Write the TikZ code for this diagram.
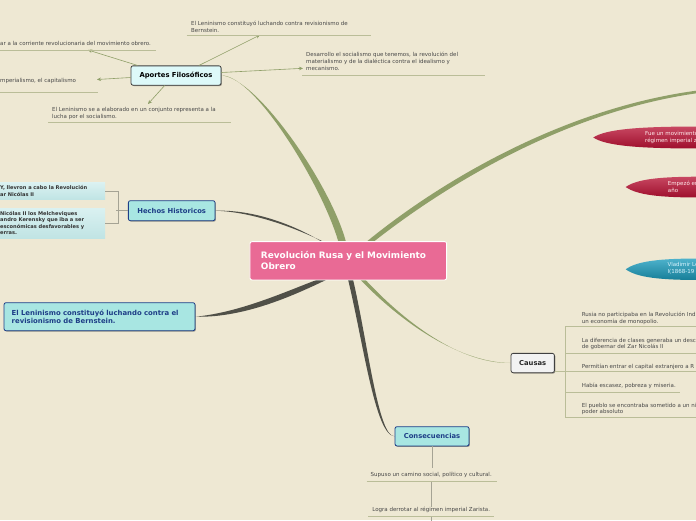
\documentclass[tikz,border=0pt]{standalone}
\usepackage{fontspec}
\setmainfont{DejaVu Sans}
\usetikzlibrary{arrows.meta,shadows,calc}
\definecolor{bgc}{RGB}{238,232,211}
\definecolor{olivec}{RGB}{143,159,104}
\definecolor{olivelt}{RGB}{186,189,152}
\definecolor{darkc}{RGB}{80,80,72}
\definecolor{txtc}{RGB}{72,72,72}
\definecolor{pinkc}{RGB}{233,106,149}
\definecolor{tealfill}{RGB}{168,230,226}
\definecolor{paleteal}{RGB}{221,249,249}
\definecolor{navyc}{RGB}{30,62,135}
\definecolor{graylink}{RGB}{165,163,148}
\definecolor{redtop}{RGB}{200,72,98}
\definecolor{redbot}{RGB}{158,14,44}
\definecolor{bluetop}{RGB}{78,178,204}
\definecolor{bluebot}{RGB}{22,126,152}
\definecolor{boxtop}{RGB}{218,241,241}
\definecolor{boxbot}{RGB}{192,228,228}
\pgfdeclarelayer{background}
\pgfsetlayers{background,main}
\tikzset{
 smalltxt/.style={anchor=north west, inner sep=0pt, align=left, text=txtc, font=\fontsize{5.5}{7}\selectfont},
 causetxt/.style={smalltxt, font=\fontsize{5.5}{6.4}\selectfont},
 topicbox/.style={rounded corners=2pt, line width=0.8pt, inner sep=0pt, minimum height=19.3pt, font=\fontsize{6.8}{8}\selectfont\bfseries, drop shadow={shadow xshift=0.9pt, shadow yshift=-0.9pt, opacity=0.35, fill=black}},
 navybox/.style={topicbox, fill=tealfill, draw=navyc, text=navyc},
 underl/.style={draw=olivelt, line width=0.6pt},
 arr/.style={draw=olivec, line width=0.6pt, -{Stealth[length=4pt,width=3.6pt]}},
 glink/.style={draw=graylink, line width=0.7pt},
 factbox/.style={anchor=west, inner xsep=2pt, inner ysep=0pt, text width=103pt, align=left, top color=boxtop, bottom color=boxbot, text=black!80, font=\fontsize{5.1}{6.5}\selectfont\bfseries},
 leaftxt/.style={anchor=north west, inner sep=0pt, align=left, font=\fontsize{5.5}{6.9}\selectfont},
}
\begin{document}
\begin{tikzpicture}[x=1pt,y=-1pt]
\useasboundingbox (0,0) rectangle (696,520);

% ---------- main nodes ----------
\node[fill=pinkc, draw=white, line width=0.9pt, rounded corners=2pt, minimum width=196.7pt, minimum height=38.3pt, inner xsep=11pt, inner ysep=0pt, text width=174.7pt, align=left, text=white, font=\fontsize{8.9}{11}\selectfont\bfseries] (center) at (348.3,260.8) {Revolución Rusa y el Movimiento\\Obrero};

\node[topicbox, fill=paleteal, draw=black!75, text=black, minimum width=90pt] (aportes) at (176,75.5) {Aportes Filosóficos};
\node[navybox, minimum width=86.7pt, minimum height=20pt] (hechos) at (171.7,210.7) {Hechos Historicos};
\node[navybox, minimum width=191pt, minimum height=28pt, text width=175.6pt, inner xsep=7.7pt, align=left, font=\fontsize{6.9}{8}\selectfont\bfseries] (len) at (99.5,316.7) {El Leninismo constituyó luchando contra el\\revisionismo de Bernstein.};
\node[navybox, minimum width=74pt] (cons) at (432,436.3) {Consecuencias};
\node[topicbox, fill=black!5, draw=black!75, text=black!85, minimum width=43.3pt] (causas) at (532.7,363) {Causas};

\coordinate (rightend) at (700,91.5);

% ---------- branches (background) ----------
\begin{pgfonlayer}{background}
\clip (0,0) rectangle (696,520);
\fill[bgc] (0,0) rectangle (696,520);
% to Aportes
\fill[olivec] ($(center.north)+(-9,4)$) .. controls (325,190) and (255,74.5) .. (aportes.east)
  .. controls (258,77.5) and (334,190) .. ($(center.north)+(-1.5,4)$) -- cycle;
% to the right
\fill[olivec] ($(center.north)+(14,4)$) .. controls (437,183) and (563,107.5) .. ($(rightend)+(0,-1.3)$)
  -- ($(rightend)+(0,1.3)$) .. controls (565,111) and (442,187) .. ($(center.north)+(21,4)$) -- cycle;
% to Hechos
\fill[darkc] ($(center.north)+(-21,4)$) .. controls (297,225.5) and (255,209.5) .. (hechos.east)
  .. controls (255,212) and (300,229.5) .. ($(center.north)+(-16,5)$) -- cycle;
% to Leninismo
\fill[darkc] ($(center.south)+(-22,-4)$) .. controls (293,288) and (244,312) .. (len.east)
  .. controls (246,318) and (297,294) .. ($(center.south)+(-17,-3)$) -- cycle;
% to Consecuencias
\fill[darkc] ($(center.south)+(-1,-4)$) .. controls (363,340) and (375,436) .. (cons.west)
  .. controls (378,437.5) and (367.5,340) .. ($(center.south)+(4,-4)$) -- cycle;
% to Causas
\fill[olivec] ($(center.south)+(9,-4)$) .. controls (394,316) and (455,362.5) .. (causas.west)
  .. controls (455,364) and (397,314.5) .. ($(center.south)+(14,-4)$) -- cycle;
\end{pgfonlayer}

% ---------- Aportes children ----------
\coordinate (tip1) at (88,50);
\coordinate (tip2) at (97,79.5);
\coordinate (tip3) at (148,104);
\coordinate (tip4) at (260,35);
\coordinate (tip5) at (303,68.3);
\draw[arr] ($(aportes.north west)+(7,0)$) -- (tip1);
\draw[arr] ($(aportes.west)+(0,2)$) -- (tip2);
\draw[arr] ($(aportes.south west)+(34,0)$) -- (tip3);
\draw[arr] ($(aportes.north)+(23,0)$) -- (tip4);
\draw[arr] ($(aportes.east)+(0,-3)$) -- (tip5);

\node[smalltxt] (t1) at (0,41.6) {ar a la corriente revolucionaria del movimiento obrero.};
\draw[underl] (0,50) -- (156,50);
\node[smalltxt] (t2) at (0,77.8) {mperialismo, el capitalismo};
\draw[underl] (0,92.3) -- (98,92.3);
\node[smalltxt] (t3) at (52,107) {El Leninismo se a elaborado en un conjunto representa a la\\lucha por el socialismo.};
\draw[underl] (48,122.7) -- (231,122.7);
\node[smalltxt] (t4) at (191,20.6) {El Leninismo constituyó luchando contra revisionismo de\\Bernstein.};
\draw[underl] (186.7,35.7) -- (370.7,35.7);
\node[smalltxt] (t5) at (306,52.3) {Desarrollo el socialismo que tenemos, la revolución del\\materialismo y de la dialéctica contra el idealismo y\\mecanismo.};
\draw[underl] (302.3,75) -- (485,75);

% ---------- Hechos children ----------
\node[factbox, minimum height=16.5pt] (h1) at (-2,191.2) {Y, llevron a cabo la Revolución\\ar Nicólas II};
\node[factbox, minimum height=30.3pt] (h2) at (-2,223.2) {Nicólas II los Melcheviques\\andro Kerensky que iba a ser\\esconómicas desfavorables y\\erras.};
\draw[glink] (hechos.west) -- ++(-11.5,0);
\draw[glink] (h1.east) -- ++(12.5,0) |- (h2.east);

% ---------- Consecuencias children ----------
\node[smalltxt, anchor=north] (s1) at (431.2,472.3) {Supuso un camino social, político y cultural.};
\node[smalltxt, anchor=north] (s2) at (431.2,507.3) {Logra derrotar al régimen imperial Zarista.};
\draw[glink] (cons.south) -- ++(0,22);
\draw[underl] (366.7,481.7) -- (496.7,481.7);
\coordinate (cu1) at (431.2,481.7);
\draw[glink] (cu1) -- (s2.north);
\draw[underl] (368,516.7) -- (494.3,516.7);
\coordinate (cu2) at (431.2,516.7);
\draw[glink] (cu2) -- ++(0,6);

% ---------- Causas children ----------
\coordinate (cj) at (565,371.7);
\draw[underl] ($(causas.east)+(0,8.7)$) -- (cj);
\draw[underl] (565,326.7) -- (565,417.3);
\draw[underl] (565,326.7) -- (700,326.7);
\draw[underl] (565,353.3) -- (700,353.3);
\draw[underl] (565,371.7) -- (700,371.7);
\draw[underl] (565,392) -- (680,392);
\draw[underl] (565,417.3) -- (700,417.3);
\node[causetxt] (c1) at (581.7,312.2) {Rusia no participaba en la Revolución Ind\\un economía de monopolio.};
\node[causetxt] (c2) at (581.7,338.2) {La diferencia de clases generaba un desc\\de gobernar del Zar Nicolás II};
\node[causetxt] (c3) at (581.7,364.3) {Permitían entrar el capital extranjero a R};
\node[causetxt] (c4) at (581.7,383.3) {Había escasez, pobreza y miseria.};
\node[causetxt] (c5) at (581.7,403.2) {El pueblo se encontraba sometido a un ni\\poder absoluto};

% ---------- right-hand leaves ----------
\shade[top color=redtop, bottom color=redbot] (593.3,137.5) .. controls (606,129) and (640,126.5) .. (700,126.5)
  -- (700,148.5) .. controls (640,148.5) and (606,146) .. cycle;
\node[leaftxt, text=white!92!red] (l1) at (645,131.6) {Fue un movimiento\\régimen imperial z};
\shade[top color=redtop, bottom color=redbot] (625.7,187) .. controls (637,179) and (660,176.7) .. (700,176.7)
  -- (700,197.5) .. controls (660,197.5) and (637,195) .. cycle;
\node[leaftxt, text=white!92!red] (l2) at (667.7,180.6) {Empezó en\\año};
\shade[top color=bluetop, bottom color=bluebot] (625.7,269.3) .. controls (637,261) and (660,258.5) .. (700,258.5)
  -- (700,280) .. controls (660,280) and (637,277.5) .. cycle;
\node[leaftxt, text=white!85!cyan] (l3) at (667.3,262.6) {Vladimir Le\\I(1868-19};
\end{tikzpicture}
\end{document}
